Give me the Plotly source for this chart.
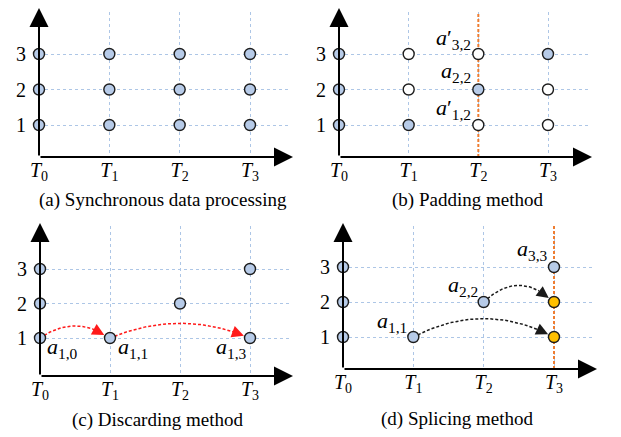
import plotly.graph_objects as go

W, H = 621, 437
OFF = 8  # page body margin
FW, FH = W - OFF, H - OFF
FONT = "Liberation Serif"

# ---------------- data ----------------
times = [0, 1, 2, 3]
time_labels = ["<i>T</i><sub>0</sub>", "<i>T</i><sub>1</sub>", "<i>T</i><sub>2</sub>", "<i>T</i><sub>3</sub>"]
sensors = [1, 2, 3]
sensor_labels = ["1", "2", "3"]

# (a) synchronous: every sensor at every time
a_x = [0, 0, 0, 1, 1, 1, 2, 2, 2, 3, 3, 3]
a_y = [1, 2, 3, 1, 2, 3, 1, 2, 3, 1, 2, 3]

# (b) padding: real samples and padded samples
b_real_x = [0, 0, 0, 1, 2, 3]
b_real_y = [1, 2, 3, 1, 2, 3]
b_pad_x = [1, 1, 2, 2, 3, 3]
b_pad_y = [2, 3, 1, 3, 1, 2]
b_focus_time = 2
b_labels = ["<i>a</i>\u2032<sub>3,2</sub>", "<i>a</i><sub>2,2</sub>", "<i>a</i>\u2032<sub>1,2</sub>"]
b_label_x = [2, 2, 2]
b_label_y = [3, 2, 1]

# (c) discarding
c_x = [0, 0, 0, 1, 2, 3, 3]
c_y = [1, 2, 3, 1, 2, 1, 3]
c_arrow_from = [(0, 1), (1, 1)]
c_arrow_to = [(1, 1), (3, 1)]
c_labels = ["<i>a</i><sub>1,0</sub>", "<i>a</i><sub>1,1</sub>", "<i>a</i><sub>1,3</sub>"]
c_label_x = [0, 1, 3]
c_label_y = [1, 1, 1]

# (d) splicing
d_x = [0, 0, 0, 1, 2, 3]
d_y = [1, 2, 3, 1, 2, 3]
d_spliced_x = [3, 3]
d_spliced_y = [1, 2]
d_focus_time = 3
d_arrow_from = [(1, 1), (2, 2)]
d_arrow_to = [(3, 1), (3, 2)]
d_labels = ["<i>a</i><sub>3,3</sub>", "<i>a</i><sub>2,2</sub>", "<i>a</i><sub>1,1</sub>"]
d_label_x = [3, 2, 1]
d_label_y = [3, 2, 1]

captions = ["(a) Synchronous data processing", "(b) Padding method",
            "(c) Discarding method", "(d) Splicing method"]

# ---------------- layout geometry (screen pixels) ----------------
panels = [
    dict(T0=39, T3=250, right=290, r1=125, r3=54, axis=157, top=12, xtip=293, ytip=8, cap=(163, 200)),
    dict(T0=339, T3=548, right=588, r1=125, r3=54, axis=157, top=12, xtip=592, ytip=8, cap=(467, 200)),
    dict(T0=40, T3=250, right=290, r1=338, r3=269, axis=376, top=226, xtip=293, ytip=223, cap=(157, 420)),
    dict(T0=343, T3=554, right=595, r1=337, r3=267, axis=369, top=226, xtip=597, ytip=223, cap=(457, 419)),
]

def px(v):
    return (v - OFF) / FW

def py(v):
    return 1 - (v - OFF) / FH

BLUE = "#b7cbe8"
GRID = "#adc6e6"
EDGE = "#1c1c1c"
ORANGE_LINE = "#ee7d31"
GOLD = "#ffc000"
RED = "#ff1a1a"

fig = go.Figure()
annotations = []
yranges = {}
xunits = {}

for i, p in enumerate(panels):
    xu = (p["T3"] - p["T0"]) / 3.0
    yu = (p["r1"] - p["r3"]) / 2.0
    xr = [0, (p["right"] - p["T0"]) / xu]
    yr = [1 - (p["axis"] - p["r1"]) / yu, 3 + (p["r3"] - p["top"]) / yu]
    xtip = (p["xtip"] - p["T0"]) / xu
    ytip = 3 + (p["r3"] - p["ytip"]) / yu
    sfx = "" if i == 0 else str(i + 1)
    yranges[sfx] = yr
    xunits[sfx] = xu
    axis_common = dict(showgrid=True, gridcolor=GRID, griddash="3px,3px", gridwidth=1,
                       zeroline=False, showline=False, ticks="", ticklen=0, fixedrange=True,
                       automargin=False)
    fig.layout["xaxis" + sfx] = dict(axis_common, domain=[px(p["T0"]), px(p["right"])], range=xr,
                                     tickmode="array", tickvals=times, ticktext=time_labels,
                                     anchor="y" + sfx, ticklabelstandoff=-1,
                                     tickfont=dict(family=FONT, size=20, color="black"))
    fig.layout["yaxis" + sfx] = dict(axis_common, domain=[py(p["axis"]), py(p["top"])], range=yr,
                                     tickmode="array", tickvals=sensors, ticktext=sensor_labels,
                                     anchor="x" + sfx, ticklabelstandoff=12,
                                     tickfont=dict(family=FONT, size=20, color="black"))
    xref, yref = "x" + sfx, "y" + sfx
    # axis arrows
    annotations.append(dict(x=xtip, y=yr[0], ax=0, ay=yr[0], xref=xref, yref=yref, axref=xref, ayref=yref,
                            text="", showarrow=True, arrowhead=2, arrowsize=1.9, arrowwidth=2, arrowcolor="black"))
    annotations.append(dict(x=0, y=ytip, ax=0, ay=yr[0], xref=xref, yref=yref, axref=xref, ayref=yref,
                            text="", showarrow=True, arrowhead=2, arrowsize=1.9, arrowwidth=2, arrowcolor="black"))
    annotations.append(dict(x=0, y=ytip, xref=xref, yref=yref, text="N", showarrow=False,
                            xshift=-19, yshift=-6, font=dict(family=FONT, size=15, color="black")))
    annotations.append(dict(x=xtip, y=yr[0], xref=xref, yref=yref, text="<i>T</i>", showarrow=False,
                            xshift=5, yshift=-17, font=dict(family=FONT, size=21, color="black")))
    annotations.append(dict(x=px(p["cap"][0]), y=py(p["cap"][1]), xref="paper", yref="paper",
                            xanchor="center", yanchor="middle",
                            text=captions[i], showarrow=False,
                            font=dict(family=FONT, size=19, color="black")))

def marker(color):
    return dict(size=11, color=color, line=dict(color=EDGE, width=1.4))

def pts(x, y, color, sfx):
    fig.add_trace(go.Scatter(x=x, y=y, mode="markers", marker=marker(color), cliponaxis=False,
                             xaxis="x" + sfx, yaxis="y" + sfx, hoverinfo="skip", showlegend=False))

def focus_line(t, sfx):
    yr = yranges[sfx]
    fig.add_trace(go.Scatter(x=[t, t], y=yr, mode="lines",
                             line=dict(color=ORANGE_LINE, width=2, dash="3px,2px"),
                             cliponaxis=False, xaxis="x" + sfx, yaxis="y" + sfx,
                             hoverinfo="skip", showlegend=False))

def arc(src, dst, lift, color, sfx):
    (x0, y0), (x2, y2) = src, dst
    cx, cy = (x0 + x2) / 2.0, max(y0, y2) + lift
    span_px = abs(x2 - x0) * xunits[sfx]
    tend = 1 - 15.0 / span_px
    n = 40
    xs, ys = [], []
    for k in range(n + 1):
        t = tend * k / n
        xs.append((1 - t) ** 2 * x0 + 2 * (1 - t) * t * cx + t * t * x2)
        ys.append((1 - t) ** 2 * y0 + 2 * (1 - t) * t * cy + t * t * y2)
    fig.add_trace(go.Scatter(x=xs, y=ys, mode="lines", line=dict(color=color, width=1.5, dash="3px,2px"),
                             cliponaxis=False, xaxis="x" + sfx, yaxis="y" + sfx,
                             hoverinfo="skip", showlegend=False))
    annotations.append(dict(x=x2, y=y2, ax=xs[-1], ay=ys[-1], xref="x" + sfx, yref="y" + sfx,
                            axref="x" + sfx, ayref="y" + sfx, text="", showarrow=True,
                            arrowhead=2, arrowsize=1.6, arrowwidth=1.5, arrowcolor=color, standoff=6.5))

def labels(texts, xs, ys, sfx, anchors, dxs, dys):
    for t, x, y, anc, dx, dy in zip(texts, xs, ys, anchors, dxs, dys):
        annotations.append(dict(x=x, y=y, xref="x" + sfx, yref="y" + sfx, text=t, showarrow=False,
                                xanchor=anc, xshift=dx, yshift=dy,
                                font=dict(family=FONT, size=22, color="black")))

# (a)
pts(a_x, a_y, BLUE, "")
# (b)
focus_line(b_focus_time, "2")
pts(b_real_x, b_real_y, BLUE, "2")
pts(b_pad_x, b_pad_y, "white", "2")
labels(b_labels, b_label_x, b_label_y, "2", ["right"] * 3, [-5] * 3, [15, 18, 16])
# (c)
for s, d, lift in zip(c_arrow_from, c_arrow_to, [0.7, 0.85]):
    arc(s, d, lift, RED, "3")
pts(c_x, c_y, BLUE, "3")
labels(c_labels, c_label_x, c_label_y, "3", ["left", "left", "right"], [5, 6, -1], [-10] * 3)
# (d)
focus_line(d_focus_time, "4")
for s, d, lift in zip(d_arrow_from, d_arrow_to, [1.05, 0.95]):
    arc(s, d, lift, "#1a1a1a", "4")
pts(d_x, d_y, BLUE, "4")
pts(d_spliced_x, d_spliced_y, GOLD, "4")
labels(d_labels, d_label_x, d_label_y, "4", ["right"] * 3, [-4] * 3, [17, 16, 15])

fig.update_layout(width=FW, height=FH, margin=dict(l=0, r=0, t=0, b=0, autoexpand=False),
                  paper_bgcolor="white", plot_bgcolor="white",
                  annotations=annotations, showlegend=False,
                  font=dict(family=FONT, color="black"))

fig.write_html("out.html", config={"displayModeBar": False})
